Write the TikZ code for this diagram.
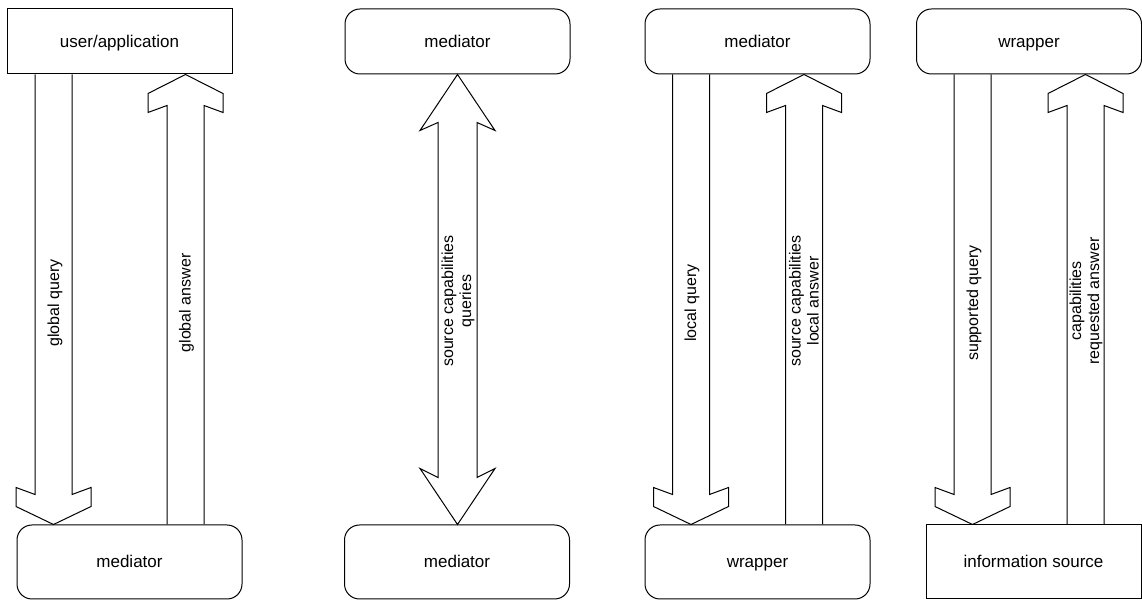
\documentclass[tikz,border=0pt]{standalone}
\usepackage{fontspec}
\setmainfont{Liberation Sans}
\usetikzlibrary{calc}

% block arrows between two boxes: #1 = centre x (pt), #2 = upper node, #3 = lower node
\newcommand\blockdown[3]{%
  \draw[blk] let \p1=(#2.south), \p2=(#3.north) in
    ({#1pt-18.5pt},\y1) -- ({#1pt-18.5pt},{\y2+30pt}) -- ({#1pt-37.5pt},{\y2+37pt})
    -- ({#1pt-37.5pt},{\y2+18pt}) -- (#1pt,\y2) -- ({#1pt+37.5pt},{\y2+18pt})
    -- ({#1pt+37.5pt},{\y2+37pt}) -- ({#1pt+18.5pt},{\y2+30pt}) -- ({#1pt+18.5pt},\y1);}
\newcommand\blockup[3]{%
  \draw[blk] let \p1=(#2.south), \p2=(#3.north) in
    ({#1pt-18.5pt},\y2) -- ({#1pt-18.5pt},{\y1-31pt}) -- ({#1pt-37.5pt},{\y1-38pt})
    -- ({#1pt-37.5pt},{\y1-19pt}) -- (#1pt,\y1) -- ({#1pt+37.5pt},{\y1-19pt})
    -- ({#1pt+37.5pt},{\y1-38pt}) -- ({#1pt+18.5pt},{\y1-31pt}) -- ({#1pt+18.5pt},\y2);}
\newcommand\blockboth[3]{%
  \draw[blk] let \p1=(#2.south), \p2=(#3.north) in
    (#1pt,\y1) -- ({#1pt+37.5pt},{\y1-56pt}) -- ({#1pt+19.5pt},{\y1-48pt})
    -- ({#1pt+19.5pt},{\y2+47pt}) -- ({#1pt+37.5pt},{\y2+56pt}) -- (#1pt,\y2)
    -- ({#1pt-37.5pt},{\y2+56pt}) -- ({#1pt-19.5pt},{\y2+47pt})
    -- ({#1pt-19.5pt},{\y1-48pt}) -- ({#1pt-37.5pt},{\y1-56pt}) -- cycle;}

\begin{document}
\begin{tikzpicture}[x=1pt,y=1pt,
  box/.style={draw,line width=1pt,minimum width=225pt,minimum height=65pt,
    inner sep=0pt,text height=14pt,text depth=2pt,font=\fontsize{17}{20}\selectfont},
  rbox/.style={box,rounded corners=15pt},
  tallbox/.style={minimum height=74pt},
  blk/.style={line width=1pt,line join=miter},
  lbl/.style={rotate=90,align=center,font=\fontsize{16}{18}\selectfont,inner sep=0pt}]
\useasboundingbox (0,0) rectangle (1142,601);

% top row
\node[box]  (ua)  at (119.5,559.5) {user/application};
\node[rbox] (m2a) at (457.5,559.5) {mediator};
\node[rbox] (m3)  at (757.5,559.5) {mediator};
\node[rbox] (w4)  at (1029,559.5)  {wrapper};

% bottom row
\node[rbox,tallbox] (m1)  at (129.5,39) {mediator};
\node[rbox,tallbox] (m2b) at (457,39)   {mediator};
\node[rbox,tallbox] (w3)  at (757.5,39) {wrapper};
\node[box,tallbox,minimum width=215pt] (is) at (1033.5,39) {information source};

% flows
\blockdown{53.5}{ua}{m1}
\blockup{185.5}{ua}{m1}
\blockboth{457.5}{m2a}{m2b}
\blockdown{691}{m3}{w3}
\blockup{804}{m3}{w3}
\blockdown{972.5}{w4}{is}
\blockup{1085.5}{w4}{is}

% flow labels
\node[lbl] (gq) at (55,298)    {global query};
\node[lbl] (ga) at (186.5,298) {global answer};
\node[lbl] (sc) at (458,300)   {source capabilities\\queries};
\node[lbl] (lq) at (692,298)   {local query};
\node[lbl] (la) at (804,300)   {source capabilities\\local answer};
\node[lbl] (sq) at (974,298)   {supported query};
\node[lbl] (ra) at (1086,300)  {capabilities\\requested answer};
\end{tikzpicture}
\end{document}
